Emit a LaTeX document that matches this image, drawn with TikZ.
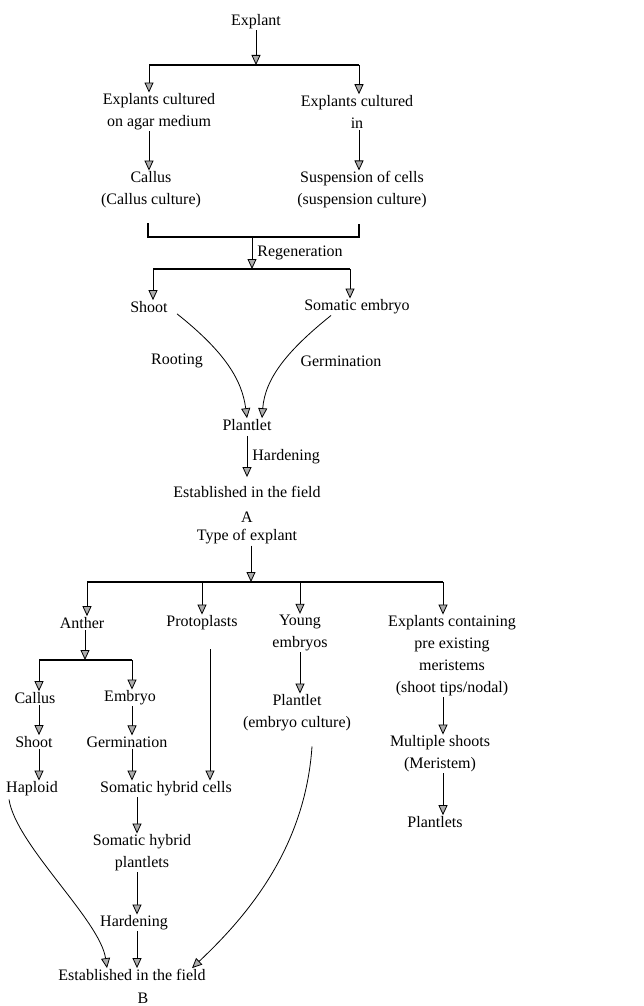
\documentclass[tikz,border=0pt]{standalone}
\usepackage{fontspec}
\setmainfont{Liberation Serif}
\usetikzlibrary{positioning,arrows.meta}

\begin{document}
\begin{tikzpicture}[
    x=1pt, y=-1pt,
    txt/.style={inner sep=1pt, align=center, font=\fontsize{16}{22}\selectfont},
    arrow/.style={-{Triangle[width=9pt,length=10pt,fill=gray!65]}, line width=0.8pt},
    bar/.style={line width=1.3pt}
  ]
    \useasboundingbox (0,0) rectangle (644,1006);

    % A
    \node[txt] at (256, 22)  (explant)    {Explant};
    \node[txt] at (159, 112) (agar)       {Explants cultured\\on agar medium};
    \node[txt] at (357, 112) (liquid)     {Explants cultured\\in};
    \node[txt] at (151, 190) (callus)     {Callus\\(Callus culture)};
    \node[txt] at (362, 190) (suspension) {Suspension of cells\\(suspension culture)};
    \node[txt] at (149, 307) (shoot)      {Shoot};
    \node[txt] at (357, 307) (somatic)    {Somatic embryo};
    \node[txt] at (177, 361) (rooting)    {Rooting};
    \node[txt] at (341, 361) (germ)       {Germination};
    \node[txt] at (247, 425) (plantlet)   {Plantlet};
    \node[txt] at (247, 492) (fieldA)     {Established in the field};
    \node[txt] at (247, 517) (labelA)     {A};

    \coordinate (topM) at (256, 65);
    \coordinate (topL) at (149, 65);
    \coordinate (topR) at (359, 65);
    \coordinate (regL) at (148, 237);
    \coordinate (regR) at (359, 237);
    \coordinate (regM) at (252, 237);
    \coordinate (midM) at (252, 269);
    \coordinate (midL) at (153, 269);
    \coordinate (midR) at (350, 269);

    \draw[arrow] (explant) -- (topM);
    \draw[bar] (topL) -- (topR);
    \draw[arrow] (topL) -- (topL |- agar.north);
    \draw[arrow] (topR) -- (topR |- liquid.north);
    \draw[arrow] (agar.south -| topL) -- (callus.north -| topL);
    \draw[arrow] (liquid.south -| topR) -- (suspension.north -| topR);
    \draw[bar] ([yshift=-14]callus.south -| regL) -- (regL) -- (regR) -- ([yshift=-14]suspension.south -| regR);
    \draw[arrow] (regM) -- (midM) node[txt, midway, right=4pt] (regen) {Regeneration};
    \draw[bar] (midL) -- (midR);
    \draw[arrow] (midL) -- (midL |- shoot.north);
    \draw[arrow] (midR) -- (midR |- somatic.north);
    \draw[arrow] ([xshift=28]shoot.south) .. controls (225,352) and (242,380) .. ([xshift=0]plantlet.north);
    \draw[arrow] ([xshift=-26]somatic.south) .. controls (288,350) and (265,378) .. ([xshift=15]plantlet.north);
    \draw[arrow] ([yshift=-4]plantlet.south) -- ([yshift=8]fieldA.north) node[txt, midway, right=4pt] (hardA) {Hardening};

    % B
    \node[txt] at (247, 537) (type)       {Type of explant};
    \node[txt] at (82, 623)  (anther)     {Anther};
    \node[txt] at (202, 623) (protoplast) {Protoplasts};
    \node[txt] at (300, 633) (young)      {Young\\embryos};
    \node[txt] at (452, 656) (meristem)   {Explants containing\\pre existing\\meristems\\(shoot tips/nodal)};
    \node[txt] at (35, 698)  (callusB)    {Callus};
    \node[txt] at (130, 698) (embryoB)    {Embryo};
    \node[txt] at (34, 742)  (shootB)     {Shoot};
    \node[txt] at (127, 742) (germB)      {Germination};
    \node[txt] at (32, 789)  (haploid)    {Haploid};
    \node[txt] at (166, 789) (hybcells)   {Somatic hybrid cells};
    \node[txt] at (297, 713) (plantletB)  {Plantlet\\(embryo culture)};
    \node[txt] at (440, 754) (multiple)   {Multiple shoots\\(Meristem)};
    \node[txt] at (435, 822) (plantlets)  {Plantlets};
    \node[txt] at (142, 853) (hybplant)   {Somatic hybrid\\plantlets};
    \node[txt] at (134, 923) (hardB)      {Hardening};
    \node[txt] at (132, 975) (fieldB)     {Established in the field};
    \node[txt] at (143, 998) (labelB)     {B};

    \coordinate (typM) at (251, 582);
    \coordinate (typL) at (87, 582);
    \coordinate (typR) at (443, 582);
    \coordinate (antM) at (85, 660);
    \coordinate (antL) at (39, 660);
    \coordinate (antR) at (132, 660);
    \coordinate (hybX) at (137, 0);
    \coordinate (youX) at (300, 0);

    \draw[arrow] (type.south -| typM) -- (typM);
    \draw[bar] (typL) -- (typR);
    \draw[arrow] (typL) -- (typL |- anther.north);
    \draw[arrow] (typL -| protoplast) -- (protoplast.north);
    \draw[arrow] (typL -| young) -- (young.north);
    \draw[arrow] (typR) -- (typR |- meristem.north);
    \draw[arrow] (anther.south -| antM) -- (antM);
    \draw[bar] (antL) -- (antR);
    \draw[arrow] (antL) -- (antL |- callusB.north);
    \draw[arrow] (antR) -- (antR |- embryoB.north);
    \draw[arrow] (callusB.south -| antL) -- (shootB.north -| antL);
    \draw[arrow] (embryoB.south -| antR) -- (germB.north -| antR);
    \draw[arrow] (shootB.south -| antL) -- (haploid.north -| antL);
    \draw[arrow] (germB.south -| antR) -- (hybcells.north -| antR);
    \draw[arrow] ([yshift=-18]protoplast.south -| 210,0) -- (hybcells.north -| 210,0);
    \draw[arrow] (young.south -| youX) -- (plantletB.north -| youX);
    \draw[arrow] (meristem.south -| typR) -- (multiple.north -| typR);
    \draw[arrow] (multiple.south -| typR) -- (plantlets.north -| typR);
    \draw[arrow] (hybcells.south -| hybX) -- (hybplant.north -| hybX);
    \draw[arrow] (hybplant.south -| hybX) -- (hardB.north -| hybX);
    \draw[arrow] (hardB.south -| hybX) -- (fieldB.north -| hybX);
    \draw[arrow] ([xshift=-23,yshift=-2]haploid.south) .. controls (16,845) and (100,920) .. ([xshift=-25]fieldB.north);
    \draw[arrow] ([xshift=15,yshift=-14]plantletB.south) .. controls (305,850) and (245,918) .. ([xshift=60]fieldB.north);
\end{tikzpicture}
\end{document}
